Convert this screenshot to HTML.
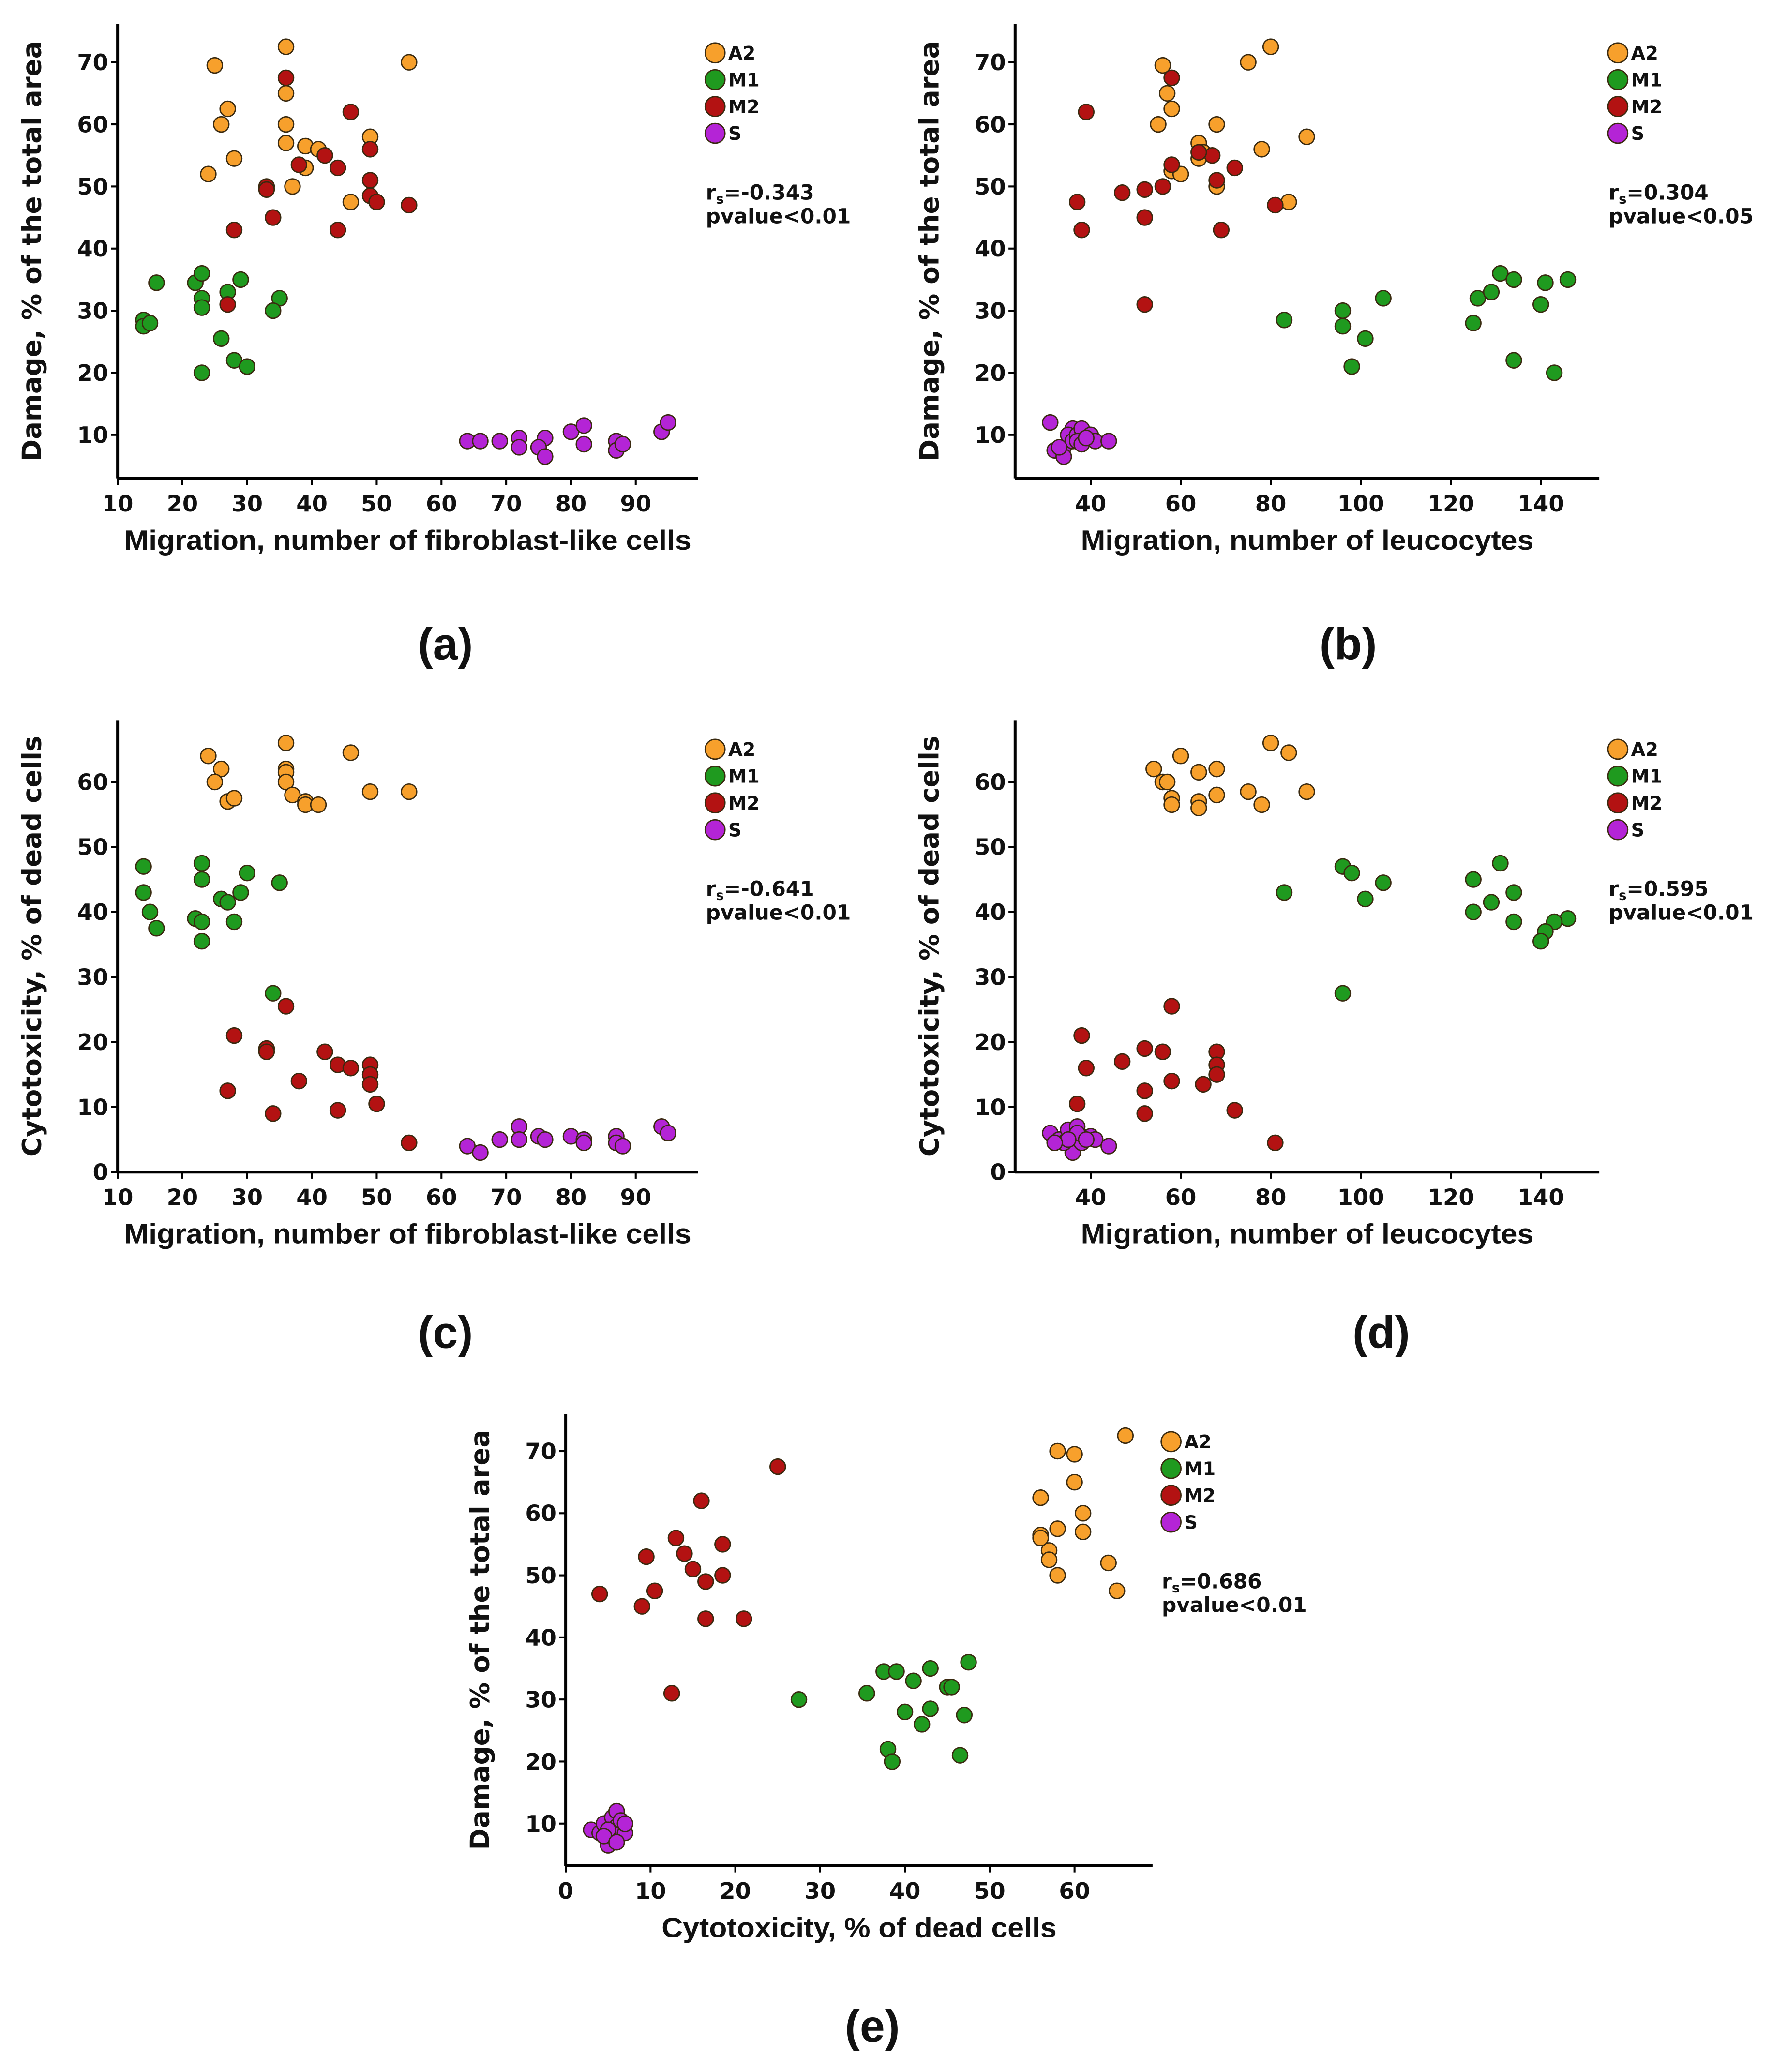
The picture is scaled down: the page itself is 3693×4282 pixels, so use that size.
<!DOCTYPE html>
<html><head><meta charset="utf-8"><style>
html,body{margin:0;padding:0;background:#fff;}
svg{display:block;}
text{font-family:"DejaVu Sans","Liberation Sans",sans-serif;font-weight:bold;fill:#111;}
.xl{font-family:"Liberation Sans",sans-serif;font-size:21px;}
.tk{font-size:17px;}
.yl{font-size:20px;}
.lg{font-size:14px;}
.st{font-size:15.5px;}
.pl{font-family:"Liberation Sans",sans-serif;font-size:34px;}
</style></head><body>
<svg id="fig" width="3693" height="4282" viewBox="0 0 1352 1568" preserveAspectRatio="none" xmlns="http://www.w3.org/2000/svg"></svg>
<script>
// Panel (a): fibroblast migration vs damage
const aA2=[[25,69.5],[36,72.5],[55,70],[27,62.5],[26,60],[36,65],[36,60],[36,57],[28,54.5],[24,52],[39,56.5],[41,56],[39,53],[37,50],[49,58],[46,47.5]];
const aM1=[[16,34.5],[22,34.5],[23,36],[23,32],[23,30.5],[27,33],[29,35],[35,32],[34,30],[14,28.5],[14,27.5],[15,28],[26,25.5],[28,22],[30,21],[23,20]];
const aM2=[[36,67.5],[46,62],[42,55],[38,53.5],[44,53],[33,50],[33,49.5],[49,56],[49,51],[49,48.5],[50,47.5],[55,47],[34,45],[28,43],[44,43],[27,31]];
const aS=[[64,9],[66,9],[69,9],[72,9.5],[72,8],[76,9.5],[75,8],[76,6.5],[80,10.5],[82,11.5],[82,8.5],[87,9],[87,7.5],[88,8.5],[94,10.5],[95,12]];
// Panel (b): leucocyte migration vs damage
const bA2=[[56,69.5],[57,65],[58,62.5],[75,70],[80,72.5],[55,60],[68,60],[64,57],[65,55.5],[64,54.5],[58,52.5],[60,52],[68,50],[78,56],[88,58],[84,47.5]];
const bM1=[[131,36],[134,35],[146,35],[141,34.5],[126,32],[129,33],[105,32],[96,30],[140,31],[83,28.5],[96,27.5],[125,28],[101,25.5],[134,22],[98,21],[143,20]];
const bM2=[[58,67.5],[39,62],[58,53.5],[67,55],[64,55.5],[72,53],[68,51],[52,49.5],[56,50],[47,49],[37,47.5],[81,47],[52,45],[38,43],[69,43],[52,31]];
const bS=[[31,12],[36,11],[32,7.5],[34,8],[35,10],[36,9],[37,10],[38,11],[37,9],[40,10],[41,9],[44,9],[34,6.5],[38,8.5],[33,8],[39,9.5]];
// Panel (c): fibroblast migration vs cytotoxicity
const cA2=[[24,64],[26,62],[25,60],[27,57],[28,57.5],[36,66],[36,62],[36,61.5],[36,60],[37,58],[39,57],[39,56.5],[41,56.5],[46,64.5],[49,58.5],[55,58.5]];
const cM1=[[14,47],[23,47.5],[23,45],[14,43],[29,43],[30,46],[35,44.5],[15,40],[22,39],[23,38.5],[26,42],[27,41.5],[28,38.5],[16,37.5],[23,35.5],[34,27.5]];
const cM2=[[36,25.5],[28,21],[42,18.5],[33,19],[33,18.5],[44,16.5],[46,16],[49,16.5],[49,15],[38,14],[49,13.5],[27,12.5],[50,10.5],[44,9.5],[34,9],[55,4.5]];
const cS=[[64,4],[66,3],[69,5],[72,7],[72,5],[75,5.5],[76,5],[80,5.5],[82,5],[82,4.5],[87,5.5],[87,4.5],[88,4],[94,7],[95,6]];
// Panel (d): leucocyte migration vs cytotoxicity
const dA2=[[80,66],[60,64],[84,64.5],[54,62],[64,61.5],[68,62],[56,60],[57,60],[58,57.5],[58,56.5],[64,57],[64,56],[68,58],[75,58.5],[78,56.5],[88,58.5]];
const dM1=[[131,47.5],[96,47],[98,46],[105,44.5],[125,45],[134,43],[83,43],[101,42],[129,41.5],[125,40],[146,39],[143,38.5],[134,38.5],[141,37],[140,35.5],[96,27.5]];
const dM2=[[58,25.5],[38,21],[39,16],[52,19],[56,18.5],[68,18.5],[47,17],[68,16.5],[58,14],[65,13.5],[68,15],[52,12.5],[37,10.5],[72,9.5],[52,9],[81,4.5]];
const dS=[[31,6],[33,5],[35,6.5],[36,5],[37,7],[36,3],[38,5.5],[40,5.5],[41,5],[44,4],[34,4.5],[38,4.5],[37,6],[39,5],[35,5],[32,4.5]];
// Panel (e): cytotoxicity vs damage
const eA2=[[66,72.5],[58,70],[60,69.5],[56,62.5],[60,65],[61,60],[56,56.5],[57,54],[58,57.5],[61,57],[57,52.5],[64,52],[58,50],[65,47.5],[56,56]];
const eM1=[[47.5,36],[37.5,34.5],[39,34.5],[43,35],[45,32],[45.5,32],[35.5,31],[41,33],[27.5,30],[40,28],[43,28.5],[47,27.5],[42,26],[38,22],[38.5,20],[46.5,21]];
const eM2=[[25,67.5],[16,62],[13,56],[18.5,55],[14,53.5],[9.5,53],[15,51],[16.5,49],[18.5,50],[10.5,47.5],[4,47],[9,45],[16.5,43],[21,43],[12.5,31]];
const eS=[[3,9],[4,8.5],[4.5,10],[5,7.5],[5,6.5],[5.5,11],[6,12],[6,9.5],[6.5,10.5],[7,8.5],[7,10],[5,9],[4.5,8],[6,7]];
const xTicksF=[10,20,30,40,50,60,70,80,90];
const xTicksL=[40,60,80,100,120,140];
const xTicksC=[0,10,20,30,40,50,60];
const yTicksD=[10,20,30,40,50,60,70];
const yTicksC=[0,10,20,30,40,50,60];
const groups=['A2','M1','M2','S'];
const colors={A2:'#f7a02c',M1:'#1f9a1f',M2:'#b31212',S:'#b424d6'};

const NS='http://www.w3.org/2000/svg';
const svg=document.getElementById('fig');
function mk(tag,attrs,parent,txt){const e=document.createElementNS(NS,tag);for(const k in attrs)e.setAttribute(k,attrs[k]);if(txt!==undefined)e.textContent=txt;(parent||svg).appendChild(e);return e;}

function panel(p){
  const g=mk('g',{});
  
  
  const sx=v=>p.x0+(v-p.xmin)/(p.xmax-p.xmin)*(p.x1-p.x0);
  const sy=v=>p.y1-(v-p.ymin)/(p.ymax-p.ymin)*(p.y1-p.y0);
  const ya=mk('line',{x1:p.x0,y1:p.y0,x2:p.x0,y2:p.y1,stroke:'#000','stroke-width':2.2},g);
  
  
  const xa=mk('line',{x1:p.x0,y1:p.y1,x2:p.x1,y2:p.y1,stroke:'#000','stroke-width':2.2},g);
  
  
  p.xt.forEach(v=>{const x=sx(v);mk('line',{x1:x,y1:p.y1,x2:x,y2:p.y1+5,stroke:'#000','stroke-width':1.5},g);
    const t=mk('text',{x:x,y:p.y1+25,'text-anchor':'middle',class:'tk'},g,String(v));
    
    });
  p.yt.forEach(v=>{const y=sy(v);mk('line',{x1:p.x0-5,y1:y,x2:p.x0,y2:y,stroke:'#000','stroke-width':1.5},g);
    const t=mk('text',{x:p.x0-7,y:y+6,'text-anchor':'end',class:'tk'},g,String(v));
    
    });
  const xcx=(p.x0+p.x1)/2, xcy=p.y1+54;
  const xl=mk('text',{x:xcx,y:xcy,'text-anchor':'middle',class:'xl',transform:'translate('+xcx+' 0) scale(1.06 1) translate('+(-xcx)+' 0)'},g,p.xlab);
  
  
  const ycx=p.x0-58, ycy=(p.y0+p.y1)/2;
  const yl=mk('text',{x:ycx,y:ycy,'text-anchor':'middle',class:'yl',transform:'rotate(-90 '+ycx+' '+ycy+')'},g,p.ylab);
  
  
  groups.forEach(k=>{p.data[k].forEach(d=>{
    const c=mk('circle',{cx:sx(d[0]),cy:sy(d[1]),r:5.8,fill:colors[k],stroke:'#3a2a10','stroke-width':1},g);
    
    });});
  groups.forEach((k,i)=>{const y=p.ly+i*20.3;
    const c=mk('circle',{cx:p.lx,cy:y,r:7.5,fill:colors[k],stroke:'#3a2a10','stroke-width':1},g);
    
    
    const t=mk('text',{x:p.lx+10,y:y+5,class:'lg'},g,k);
    
    });
  const s1=mk('text',{x:p.lx-7,y:p.sy,class:'st'},g);
  
  
  mk('tspan',{},s1,'r');mk('tspan',{'font-size':'10',dy:'3'},s1,'s');mk('tspan',{dy:'-3'},s1,'='+p.r);
  const s2=mk('text',{x:p.lx-7,y:p.sy+18,class:'st'},g,'pvalue'+p.pv);
  
  
  const tl=mk('text',{x:p.tx,y:p.ty,'text-anchor':'middle',class:'pl'},g,'('+p.id+')');
  
  
}
const labF='Migration, number of fibroblast-like cells', labL='Migration, number of leucocytes',
labD='Damage, % of the total area', labC='Cytotoxicity, % of dead cells';
panel({id:'a',x0:89,x1:528,y0:18,y1:362,xmin:10,xmax:99.6,ymin:3.0,ymax:76.2,xt:xTicksF,yt:yTicksD,xlab:labF,ylab:labD,
  data:{A2:aA2,M1:aM1,M2:aM2,S:aS},lx:541,ly:40,sy:151,r:'-0.343',pv:'<0.01',tx:337,ty:499});
panel({id:'b',x0:768,x1:1210,y0:18,y1:362,xmin:23.2,xmax:153,ymin:3.0,ymax:76.2,xt:xTicksL,yt:yTicksD,xlab:labL,ylab:labD,
  data:{A2:bA2,M1:bM1,M2:bM2,S:bS},lx:1224,ly:40,sy:151,r:'0.304',pv:'<0.05',tx:1020,ty:499});
panel({id:'c',x0:89,x1:528,y0:545,y1:887,xmin:10,xmax:99.6,ymin:0,ymax:69.5,xt:xTicksF,yt:yTicksC,xlab:labF,ylab:labC,
  data:{A2:cA2,M1:cM1,M2:cM2,S:cS},lx:541,ly:567,sy:678,r:'-0.641',pv:'<0.01',tx:337,ty:1020});
panel({id:'d',x0:768,x1:1210,y0:545,y1:887,xmin:23.2,xmax:153,ymin:0,ymax:69.5,xt:xTicksL,yt:yTicksC,xlab:labL,ylab:labC,
  data:{A2:dA2,M1:dM1,M2:dM2,S:dS},lx:1224,ly:567,sy:678,r:'0.595',pv:'<0.01',tx:1045,ty:1020});
panel({id:'e',x0:428,x1:872,y0:1070,y1:1412,xmin:0,xmax:69.2,ymin:3.2,ymax:76,xt:xTicksC,yt:yTicksD,xlab:labC,ylab:labD,
  data:{A2:eA2,M1:eM1,M2:eM2,S:eS},lx:886,ly:1091,sy:1202,r:'0.686',pv:'<0.01',tx:660,ty:1545});
</script>
</body></html>
